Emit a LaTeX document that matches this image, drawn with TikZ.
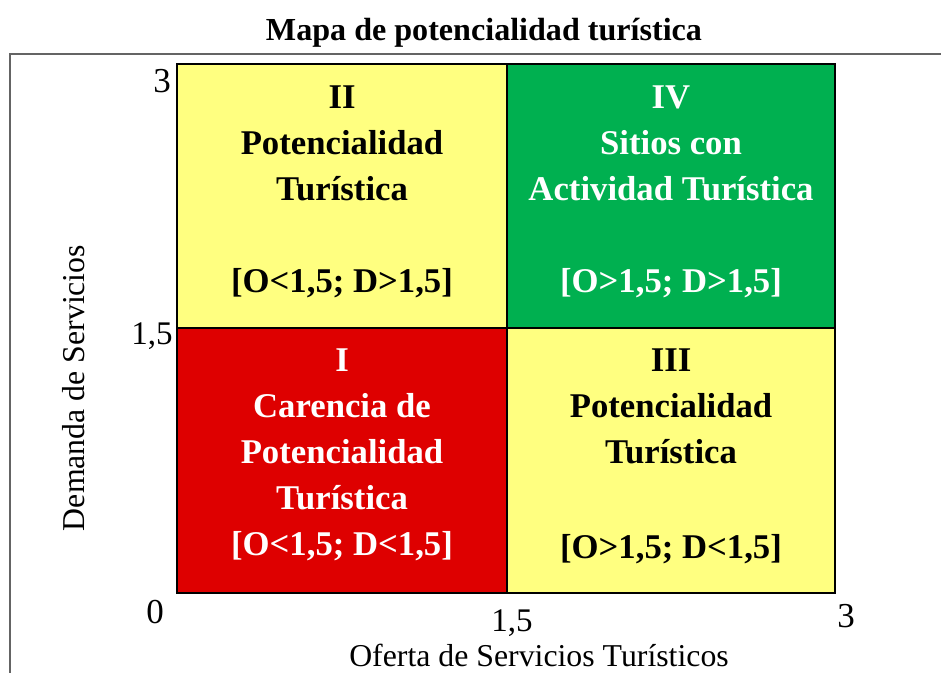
\documentclass[tikz,border=0pt]{standalone}
\usepackage{fontspec}
\setmainfont{Liberation Serif}
\definecolor{qyellow}{RGB}{255,255,128}
\definecolor{qgreen}{RGB}{0,176,80}
\definecolor{qred}{RGB}{222,0,0}
\definecolor{framegray}{RGB}{100,100,100}
\begin{document}
\begin{tikzpicture}[x=1pt,y=-1pt,
  cell/.style={draw=black,line width=1.8pt},
  qtxt/.style={anchor=base,inner sep=0pt,font=\fontsize{34.7}{40}\selectfont\bfseries},
  axnum/.style={anchor=base,inner sep=0pt,font=\fontsize{35}{40}\selectfont},
  axnumb/.style={anchor=base,inner sep=0pt,font=\fontsize{33}{38}\selectfont},
  axlab/.style={anchor=base,inner sep=0pt,font=\fontsize{31.8}{38}\selectfont},
  ttl/.style={anchor=base,inner sep=0pt,font=\fontsize{32.1}{38}\selectfont\bfseries}]
\useasboundingbox (0,0) rectangle (941,672);
% frame
\coordinate (fbl) at (10,673);
\coordinate (ftl) at (10,54);
\coordinate (ftr) at (942,54);
\draw[framegray,line width=1.8pt] (fbl) -- (ftl) -- (ftr);
% title
\node[ttl] (title) at (484,40) {Mapa de potencialidad turística};
% quadrants
\filldraw[cell,fill=qyellow] (177,64) rectangle (507,328);
\filldraw[cell,fill=qgreen] (507,64) rectangle (835,328);
\filldraw[cell,fill=qred] (177,328) rectangle (507,593);
\filldraw[cell,fill=qyellow] (507,328) rectangle (835,593);
% quadrant II
\node[qtxt] (q2a) at (342,108) {II};
\node[qtxt] (q2b) at (342,154) {Potencialidad};
\node[qtxt] (q2c) at (342,200) {Turística};
\node[qtxt] (q2d) at (342,292) {[O<1,5; D>1,5]};
% quadrant IV
\node[qtxt,text=white] (q4a) at (671,108) {IV};
\node[qtxt,text=white] (q4b) at (671,154) {Sitios con};
\node[qtxt,text=white] (q4c) at (671,200) {Actividad Turística};
\node[qtxt,text=white] (q4d) at (671,292) {[O>1,5; D>1,5]};
% quadrant I
\node[qtxt,text=white] (q1a) at (342,371) {I};
\node[qtxt,text=white] (q1b) at (342,417) {Carencia de};
\node[qtxt,text=white] (q1c) at (342,463) {Potencialidad};
\node[qtxt,text=white] (q1d) at (342,509) {Turística};
\node[qtxt,text=white] (q1e) at (342,555) {[O<1,5; D<1,5]};
% quadrant III
\node[qtxt] (q3a) at (671,371) {III};
\node[qtxt] (q3b) at (671,417) {Potencialidad};
\node[qtxt] (q3c) at (671,463) {Turística};
\node[qtxt] (q3d) at (671,558) {[O>1,5; D<1,5]};
% axis numbers
\node[axnum] (y3) at (162,92) {3};
\node[axnumb] (y15) at (152,344) {1,5};
\node[axnum] (y0) at (155,623) {0};
\node[axnumb] (x15) at (512,631) {1,5};
\node[axnum] (x3) at (846,627) {3};
% axis labels
\node[axlab] (xlab) at (539,666) {Oferta de Servicios Turísticos};
\node[axlab,rotate=90] (ylab) at (84,388) {Demanda de Servicios};
\end{tikzpicture}
\end{document}
